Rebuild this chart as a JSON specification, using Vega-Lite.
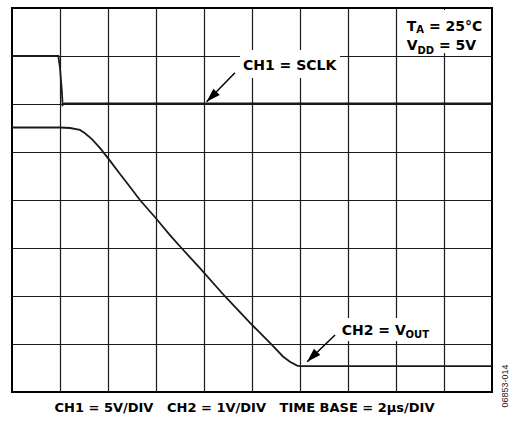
{
  "$schema": "https://vega.github.io/schema/vega-lite/v6.json",
  "width": 480,
  "height": 384,
  "autosize": {"type": "none"},
  "padding": {"left": 12, "top": 8, "right": 20, "bottom": 29},
  "background": "white",
  "view": {"stroke": "#000", "strokeWidth": 2},
  "config": {
    "axis": {"domain": false, "ticks": false, "labels": false, "grid": true, "gridColor": "#1a1a1a", "gridWidth": 1.2, "gridOpacity": 1}
  },
  "datasets": {
    "traces": [
      {"ch": "CH1", "t": 0, "div": 7.0},
      {"ch": "CH1", "t": 1.93, "div": 7.0},
      {"ch": "CH1", "t": 2.0, "div": 6.75},
      {"ch": "CH1", "t": 2.08, "div": 6.25},
      {"ch": "CH1", "t": 2.11, "div": 5.98},
      {"ch": "CH1", "t": 2.2, "div": 6.015},
      {"ch": "CH1", "t": 20, "div": 6.015},
      {"ch": "CH2", "t": 0, "div": 5.51},
      {"ch": "CH2", "t": 2.0, "div": 5.51},
      {"ch": "CH2", "t": 2.42, "div": 5.5},
      {"ch": "CH2", "t": 2.83, "div": 5.46},
      {"ch": "CH2", "t": 3.04, "div": 5.39},
      {"ch": "CH2", "t": 3.33, "div": 5.27},
      {"ch": "CH2", "t": 3.67, "div": 5.08},
      {"ch": "CH2", "t": 4.08, "div": 4.82},
      {"ch": "CH2", "t": 4.5, "div": 4.54},
      {"ch": "CH2", "t": 4.92, "div": 4.27},
      {"ch": "CH2", "t": 5.33, "div": 4.0},
      {"ch": "CH2", "t": 5.96, "div": 3.64},
      {"ch": "CH2", "t": 6.58, "div": 3.27},
      {"ch": "CH2", "t": 7.08, "div": 2.99},
      {"ch": "CH2", "t": 7.83, "div": 2.58},
      {"ch": "CH2", "t": 8.88, "div": 1.99},
      {"ch": "CH2", "t": 9.92, "div": 1.44},
      {"ch": "CH2", "t": 10.83, "div": 0.98},
      {"ch": "CH2", "t": 11.29, "div": 0.74},
      {"ch": "CH2", "t": 11.58, "div": 0.63},
      {"ch": "CH2", "t": 11.88, "div": 0.55},
      {"ch": "CH2", "t": 12.0, "div": 0.54},
      {"ch": "CH2", "t": 20, "div": 0.54}
    ],
    "boxes": [
      {"t": 9.5, "t2": 13.67, "div": 7.125, "div2": 6.54},
      {"t": 13.58, "t2": 17.5, "div": 1.54, "div2": 1.06},
      {"t": 16.17, "t2": 19.83, "div": 7.958, "div2": 7.0625}
    ],
    "arrows": [
      {"t": 9.29, "div": 6.652, "t2": 8.11, "div2": 6.048},
      {"t": 13.46, "div": 1.1875, "t2": 12.3, "div2": 0.631}
    ],
    "labels": [
      {"label": "CH1 = SCLK", "t": 9.625, "div": 6.708},
      {"label": "CH2 = V", "t": 13.74, "div": 1.1875},
      {"label": "T", "t": 16.45, "div": 7.531},
      {"label": "= 25°C", "t": 17.37, "div": 7.531},
      {"label": "V", "t": 16.45, "div": 7.125},
      {"label": "= 5V", "t": 17.79, "div": 7.125}
    ],
    "subs": [
      {"label": "A", "t": 16.84, "div": 7.469},
      {"label": "DD", "t": 16.896, "div": 7.042},
      {"label": "OUT", "t": 16.4, "div": 1.115}
    ],
    "side": [
      {"label": "06853-014", "t": 20.54, "div": 0.125}
    ]
  },
  "layer": [
    {
      "data": {"name": "traces"},
      "mark": {"type": "line", "color": "#1a1a1a", "strokeWidth": 1.8},
      "encoding": {
        "x": {
          "field": "t", "type": "quantitative",
          "scale": {"domain": [0, 20], "nice": false, "zero": false},
          "axis": {
            "values": [2, 4, 6, 8, 10, 12, 14, 16, 18],
            "title": "CH1 = 5V/DIV\u00a0\u00a0\u00a0CH2 = 1V/DIV\u00a0\u00a0\u00a0TIME BASE = 2µs/DIV",
            "titleFont": "DejaVu Sans", "titleFontWeight": "bold", "titleFontSize": 13, "titleColor": "#000",
            "titleX": 232, "titleY": 19, "titleAlign": "center", "titleBaseline": "alphabetic", "titleAnchor": null
          }
        },
        "y": {
          "field": "div", "type": "quantitative",
          "scale": {"domain": [0, 8], "nice": false, "zero": false},
          "axis": {"values": [1, 2, 3, 4, 5, 6, 7], "title": null}
        },
        "detail": {"field": "ch"}
      }
    },
    {
      "data": {"name": "boxes"},
      "mark": {"type": "rect", "fill": "white", "stroke": null},
      "encoding": {
        "x": {"field": "t", "type": "quantitative"},
        "x2": {"field": "t2"},
        "y": {"field": "div", "type": "quantitative"},
        "y2": {"field": "div2"}
      }
    },
    {
      "data": {"name": "arrows"},
      "mark": {"type": "rule", "color": "#000", "strokeWidth": 1.5},
      "encoding": {
        "x": {"field": "t", "type": "quantitative"},
        "x2": {"field": "t2"},
        "y": {"field": "div", "type": "quantitative"},
        "y2": {"field": "div2"}
      }
    },
    {
      "data": {"name": "arrows"},
      "mark": {"type": "point", "shape": "M0,0L-0.32,-1L0.32,-1Z", "filled": true, "color": "#000", "opacity": 1, "size": 784, "angle": 45},
      "encoding": {
        "x": {"field": "t2", "type": "quantitative"},
        "y": {"field": "div2", "type": "quantitative"}
      }
    },
    {
      "data": {"name": "labels"},
      "mark": {"type": "text", "font": "DejaVu Sans", "fontWeight": "bold", "fontSize": 14, "align": "left", "baseline": "alphabetic", "color": "#000"},
      "encoding": {
        "x": {"field": "t", "type": "quantitative"},
        "y": {"field": "div", "type": "quantitative"},
        "text": {"field": "label"}
      }
    },
    {
      "data": {"name": "subs"},
      "mark": {"type": "text", "font": "DejaVu Sans", "fontWeight": "bold", "fontSize": 10, "align": "left", "baseline": "alphabetic", "color": "#000"},
      "encoding": {
        "x": {"field": "t", "type": "quantitative"},
        "y": {"field": "div", "type": "quantitative"},
        "text": {"field": "label"}
      }
    },
    {
      "data": {"name": "side"},
      "mark": {"type": "text", "font": "Liberation Sans", "fontSize": 9, "angle": 270, "align": "center", "baseline": "middle", "color": "#222"},
      "encoding": {
        "x": {"field": "t", "type": "quantitative"},
        "y": {"field": "div", "type": "quantitative"},
        "text": {"field": "label"}
      }
    }
  ]
}
